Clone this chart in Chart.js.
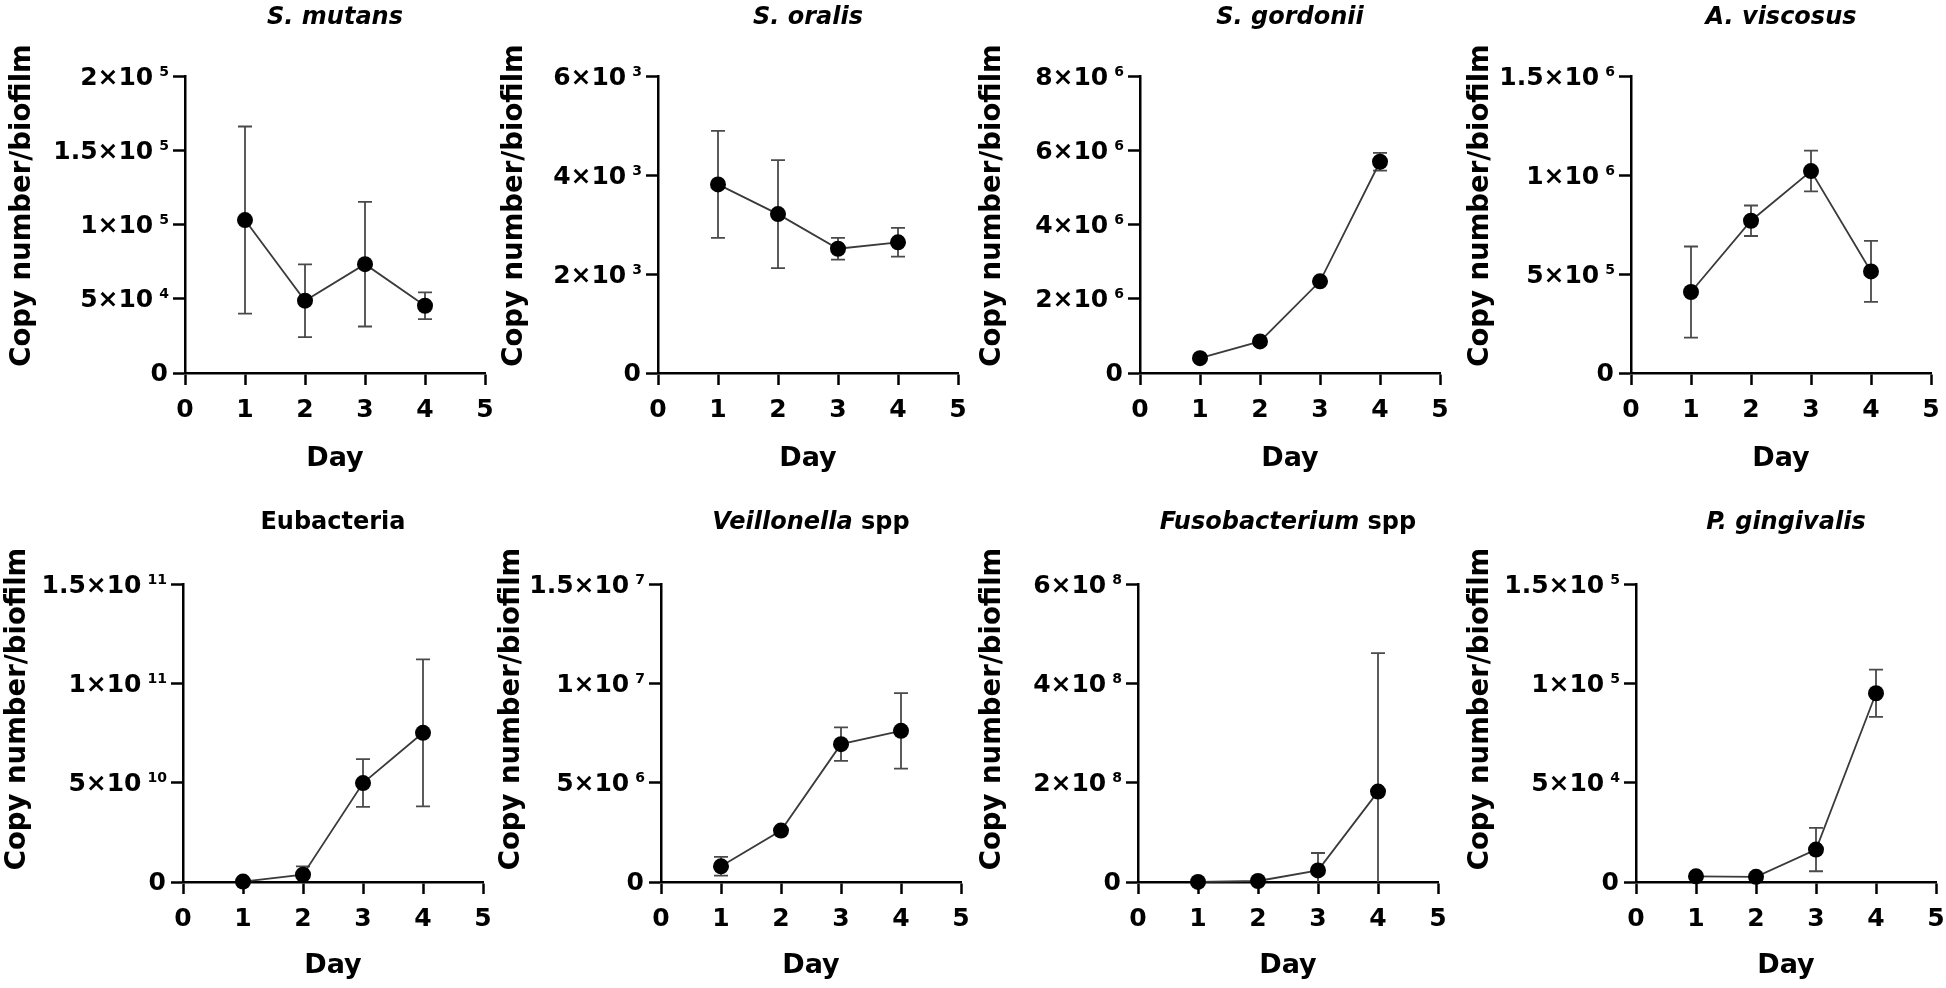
<!DOCTYPE html>
<html>
<head>
<meta charset="utf-8">
<script src="https://cdn.jsdelivr.net/npm/chart.js@4.4.1/dist/chart.umd.min.js"></script>
<style>
  body { margin: 0; background: #fff; width: 1946px; height: 988px; overflow: hidden; position: relative; }
  canvas { position: absolute; }
</style>
</head>
<body>
<script>
const days = [1, 2, 3, 4];
const dayTicks = ['0', '1', '2', '3', '4', '5'];

// tick labels: [mantissa, exponent]
// S. mutans
const mutansMean = [1.03e5, 4.87e4, 7.33e4, 4.53e4];
const mutansSd = [6.3e4, 2.45e4, 4.2e4, 0.9e4];
const mutansTicks = [['0', ''], ['5×10', '4'], ['1×10', '5'], ['1.5×10', '5'], ['2×10', '5']];

// S. oralis
const oralisMean = [3.81e3, 3.21e3, 2.51e3, 2.64e3];
const oralisSd = [1.08e3, 1.09e3, 0.22e3, 0.29e3];
const oralisTicks = [['0', ''], ['2×10', '3'], ['4×10', '3'], ['6×10', '3']];

// S. gordonii
const gordoniiMean = [0.40e6, 0.85e6, 2.47e6, 5.69e6];
const gordoniiSd = [0.05e6, 0.06e6, 0.06e6, 0.24e6];
const gordoniiTicks = [['0', ''], ['2×10', '6'], ['4×10', '6'], ['6×10', '6'], ['8×10', '6']];

// A. viscosus
const viscosusMean = [4.09e5, 7.69e5, 1.02e6, 5.13e5];
const viscosusSd = [2.3e5, 0.77e5, 1.03e5, 1.54e5];
const viscosusTicks = [['0', ''], ['5×10', '5'], ['1×10', '6'], ['1.5×10', '6']];

// Eubacteria
const eubactMean = [0.02e10, 0.37e10, 4.98e10, 7.51e10];
const eubactSd = [0.01e10, 0.42e10, 1.2e10, 3.7e10];
const eubactTicks = [['0', ''], ['5×10', '10'], ['1×10', '11'], ['1.5×10', '11']];

// Veillonella spp
const veillMean = [0.79e6, 2.59e6, 6.94e6, 7.61e6];
const veillSd = [0.47e6, 0.05e6, 0.84e6, 1.9e6];
const veillTicks = [['0', ''], ['5×10', '6'], ['1×10', '7'], ['1.5×10', '7']];

// Fusobacterium spp
const fusoMean = [0.1e6, 2.0e6, 2.34e7, 1.82e8];
const fusoSd = [0.1e6, 0.5e6, 3.5e7, 2.79e8];
const fusoTicks = [['0', ''], ['2×10', '8'], ['4×10', '8'], ['6×10', '8']];

// P. gingivalis
const gingMean = [2.85e3, 2.6e3, 1.63e4, 9.5e4];
const gingSd = [0.3e3, 0.3e3, 1.09e4, 1.19e4];
const gingTicks = [['0', ''], ['5×10', '4'], ['1×10', '5'], ['1.5×10', '5']];

const titles = [
    [['S. mutans', true]],
    [['S. oralis', true]],
    [['S. gordonii', true]],
    [['A. viscosus', true]],
    [['Eubacteria', false]],
    [['Veillonella', true], [' spp', false]],
    [['Fusobacterium', true], [' spp', false]],
    [['P. gingivalis', true]]
];
const yTitle = 'Copy number/biofilm';
const means = [mutansMean, oralisMean, gordoniiMean, viscosusMean, eubactMean, veillMean, fusoMean, gingMean];
const sds = [mutansSd, oralisSd, gordoniiSd, viscosusSd, eubactSd, veillSd, fusoSd, gingSd];
const tickLabels = [mutansTicks, oralisTicks, gordoniiTicks, viscosusTicks, eubactTicks, veillTicks, fusoTicks, gingTicks];
const yMax = [2e5, 6e3, 8e6, 1.5e6, 1.5e11, 1.5e7, 6e8, 1.5e5];
const yStep = [5e4, 2e3, 2e6, 5e5, 5e10, 5e6, 2e8, 5e4];

// layout (pixels)
const axisX = [185, 658, 1140, 1631, 183, 661, 1138, 1636];
const titleOff = [162, 143, 147, 150, 165, 149, 145, 155];
const AXIS_W = 185;
const FONT = '"DejaVu Sans", sans-serif';

Chart.defaults.font.family = FONT;
Chart.defaults.color = '#000';

// error bars drawn under the points
const errorBars = {
    id: 'errorBars',
    beforeDatasetsDraw(chart, args, opts) {
        const {ctx} = chart;
        const xs = chart.scales.x, ys = chart.scales.y;
        const ds = chart.data.datasets[0];
        ctx.save();
        ctx.strokeStyle = '#4a4a4a';
        ctx.lineWidth = 1.8;
        ds.data.forEach((p, i) => {
            const sd = opts.sd[i];
            const x = xs.getPixelForValue(p.x);
            const yHi = ys.getPixelForValue(p.y + sd);
            const lowVal = p.y - sd;
            const yLo = ys.getPixelForValue(Math.max(lowVal, 0));
            ctx.beginPath();
            ctx.moveTo(x, yHi);
            ctx.lineTo(x, yLo);
            ctx.moveTo(x - 7, yHi);
            ctx.lineTo(x + 7, yHi);
            if (lowVal > 0) {
                ctx.moveTo(x - 7, yLo);
                ctx.lineTo(x + 7, yLo);
            }
            ctx.stroke();
        });
        ctx.restore();
    }
};

// y tick labels as mantissa with raised exponent, placed on the scale's ticks
const yTickText = {
    id: 'yTickText',
    afterDraw(chart, args, opts) {
        const {ctx, chartArea} = chart;
        const ys = chart.scales.y;
        const ax = chartArea.left;
        ctx.save();
        ctx.fillStyle = '#000';
        ys.ticks.forEach((t, k) => {
            const lab = opts.labels[k];
            if (!lab) return;
            const y = ys.getPixelForValue(t.value);
            ctx.textAlign = 'right';
            ctx.textBaseline = 'middle';
            if (!lab[1]) {
                ctx.font = 'bold 25px ' + FONT;
                ctx.fillText(lab[0], ax - 17, y + 1);
                return;
            }
            ctx.font = 'bold 14px ' + FONT;
            const expW = ctx.measureText(lab[1]).width;
            ctx.textBaseline = 'top';
            ctx.fillText(lab[1], ax - 16, y - 11);
            ctx.font = 'bold 25px ' + FONT;
            ctx.textBaseline = 'middle';
            ctx.fillText(lab[0], ax - 16 - expW - 6, y + 2);
        });
        ctx.restore();
    }
};

// panel title (mixed italic / upright) and y axis title
const panelText = {
    id: 'panelText',
    afterDraw(chart, args, opts) {
        const {ctx, chartArea} = chart;
        const fonts = opts.parts.map(p => (p[1] ? 'italic ' : '') + 'bold 24px ' + FONT);
        ctx.save();
        const widths = opts.parts.map((p, i) => { ctx.font = fonts[i]; return ctx.measureText(p[0]).width; });
        const total = widths.reduce((a, b) => a + b, 0);
        let x = (chartArea.left + chartArea.right) / 2 - total / 2;
        const y = chartArea.top - opts.titleGap;
        ctx.fillStyle = '#000';
        ctx.textBaseline = 'middle';
        ctx.textAlign = 'left';
        opts.parts.forEach((p, i) => {
            ctx.font = fonts[i];
            ctx.fillText(p[0], x, y);
            x += widths[i];
        });

        ctx.translate(opts.yTitleX, (chartArea.top + chartArea.bottom) / 2 + opts.yTitleShift);
        ctx.rotate(-Math.PI / 2);
        ctx.textAlign = 'center';
        ctx.font = 'bold 27.5px ' + FONT;
        ctx.fillText(yTitle, 0, 0);
        ctx.restore();
    }
};

const makePanel = (i) => {
    const row = i < 4 ? 0 : 1;
    const canvas = document.createElement('canvas');
    const left = axisX[i] - AXIS_W;
    canvas.width = AXIS_W + 320;
    canvas.height = 494;
    canvas.style.left = left + 'px';
    canvas.style.top = (row * 494) + 'px';
    document.body.appendChild(canvas);

    const xHeight = row === 0 ? 121 : 106;
    const padTop = row === 0 ? 76 : 90;
    const dayPad = row === 0 ? 22 : 9;

    new Chart(canvas.getContext('2d'), {
        type: 'line',
        data: {
            datasets: [{
                data: days.map((d, k) => ({x: d, y: means[i][k]})),
                borderColor: '#3a3a3a',
                borderWidth: 1.8,
                pointRadius: 8,
                pointBackgroundColor: '#000',
                pointBorderWidth: 0,
                clip: false,
                tension: 0
            }]
        },
        options: {
            responsive: false,
            animation: false,
            devicePixelRatio: 1,
            layout: {padding: {top: padTop, right: 20, bottom: 0, left: 0}},
            plugins: {
                legend: {display: false},
                tooltip: {enabled: false},
                errorBars: {sd: sds[i]},
                yTickText: {labels: tickLabels[i]},
                panelText: {
                    parts: titles[i],
                    titleGap: row === 0 ? 58 : 61,
                    yTitleX: AXIS_W - titleOff[i],
                    yTitleShift: row === 0 ? -19 : -24
                }
            },
            scales: {
                x: {
                    type: 'linear',
                    min: 0,
                    max: 5,
                    afterFit: s => { s.height = xHeight; },
                    border: {color: '#000', width: 2.5},
                    grid: {drawOnChartArea: false, tickLength: 12, tickColor: '#000', tickWidth: 2.5},
                    ticks: {stepSize: 1, padding: 10, color: '#000', font: {size: 25, weight: 'bold'},
                        callback: (v, k) => dayTicks[k]},
                    title: {display: true, text: 'Day', color: '#000',
                        font: {size: 27, weight: 'bold', lineHeight: 1}, padding: {top: 0, bottom: dayPad}}
                },
                y: {
                    type: 'linear',
                    min: 0,
                    max: yMax[i],
                    afterFit: s => { s.width = AXIS_W; },
                    border: {color: '#000', width: 2.5},
                    grid: {drawOnChartArea: false, tickLength: 12, tickColor: '#000', tickWidth: 2.5},
                    ticks: {stepSize: yStep[i], display: false}
                }
            }
        },
        plugins: [errorBars, yTickText, panelText]
    });
};

for (let i = 0; i < 8; i++) makePanel(i);
</script>
</body>
</html>
